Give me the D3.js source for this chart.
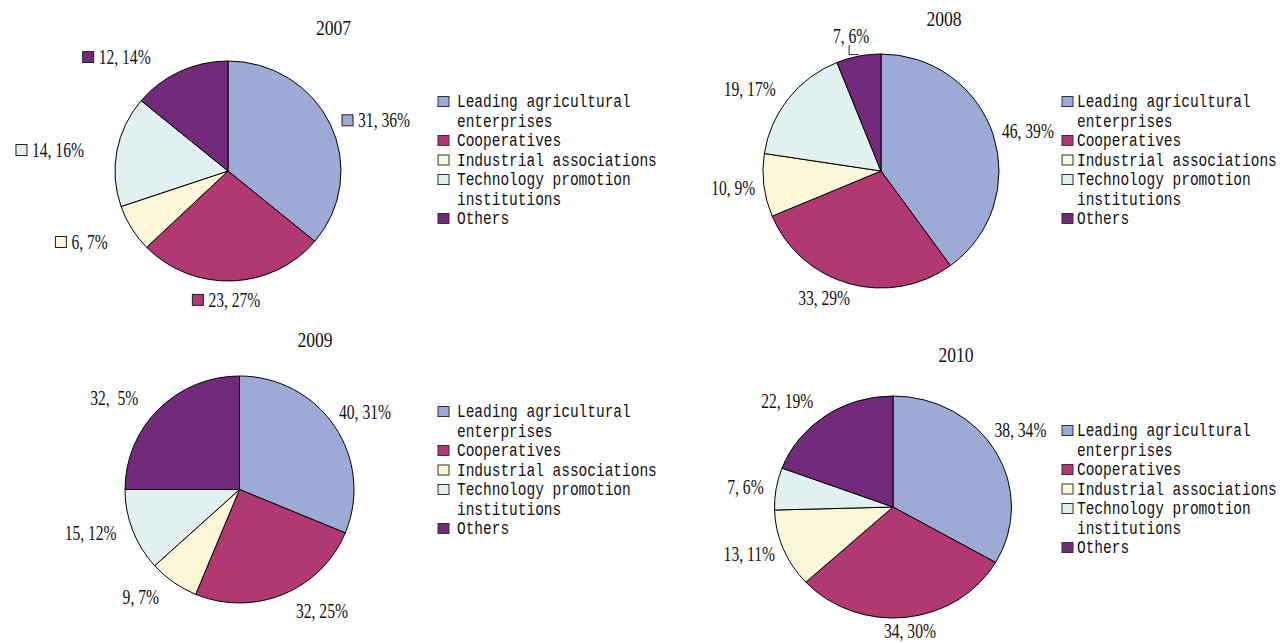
<!DOCTYPE html>
<html><head><meta charset="utf-8">
<script src="https://cdn.jsdelivr.net/npm/d3@7"></script>
<style>body{margin:0;background:#fff}svg{display:block}text{white-space:pre}</style>
</head><body>
<svg id="chart" width="1280" height="643"></svg>
<script>
// ---- data ----
const categories = ["Leading agricultural enterprises", "Cooperatives", "Industrial associations", "Technology promotion institutions", "Others"];
const legendLines = [["Leading agricultural", "enterprises"], ["Cooperatives"], ["Industrial associations"], ["Technology promotion", "institutions"], ["Others"]];
const years = ["2007", "2008", "2009", "2010"];
const values2007 = [31, 23, 6, 14, 12];
const values2008 = [46, 33, 10, 19, 7];
const values2009 = [40, 32, 9, 15, 32];
const values2010 = [38, 34, 13, 7, 22];
const pctLabels2007 = ["36%", "27%", "7%", "16%", "14%"];
const pctLabels2008 = ["39%", "29%", "9%", "17%", "6%"];
const pctLabels2009 = ["31%", "25%", "7%", "12%", " 5%"];
const pctLabels2010 = ["34%", "30%", "11%", "6%", "19%"];
const sliceColors = ["#9DAAD6", "#B13872", "#FBF7D9", "#E2F0F0", "#732A7A"];

// ---- layout ----
const panels = [
  {year: years[0], values: values2007, pcts: pctLabels2007, cx: 228, cy: 171, rx: 113, ry: 110,
   title: [333.5, 27.5], legend: [438, 457, 101], keyed: true,
   nudge: [[15, 10], [-7, -14], [-21, -3.5], [-33.6, 5], [-49, 15.5]], leader: [0,0,0,0,0]},
  {year: years[1], values: values2008, pcts: pctLabels2008, cx: 881, cy: 171, rx: 118, ry: 117,
   title: [944, 18.5], legend: [1062, 1077, 101], keyed: false,
   nudge: [[1, 7], [-15.5, -19], [4.5, -1], [-11, 13], [-0.7, 14.5]], leader: [0,0,0,0,1]},
  {year: years[2], values: values2009, pcts: pctLabels2009, cx: 239.5, cy: 489.5, rx: 114.5, ry: 113.5,
   title: [315, 340], legend: [438, 457, 411], keyed: false,
   nudge: [[1.7, 4.5], [25.5, -14.5], [-13, -13], [-10, -9.5], [-20, 13]], leader: [0,0,0,0,0]},
  {year: years[3], values: values2010, pcts: pctLabels2010, cx: 893, cy: 507, rx: 118.5, ry: 111,
   title: [956, 355], legend: [1062, 1077, 430], keyed: false,
   nudge: [[-6, -5], [0, -19], [-1, -7], [4.4, 3.5], [-18, 13]], leader: [0,0,0,0,0]}
];

const svg = d3.select("#chart");
svg.append("rect").attr("width", 1280).attr("height", 643).attr("fill", "#ffffff");

const color = d3.scaleOrdinal().domain(categories).range(sliceColors);
const pie = d3.pie().sort(null).value(d => d.value);
const arc = d3.arc().innerRadius(0).outerRadius(100);
const labelArc = d3.arc().innerRadius(130).outerRadius(130);
const edgeArc = d3.arc().innerRadius(100).outerRadius(100);

const LBL_SX = 0.78, TITLE_SX = 0.8, LEG_SX = 0.763;
const serif = "'Liberation Serif','Times New Roman',serif";
const mono = "'Liberation Mono','DejaVu Sans Mono',monospace";

panels.forEach(p => {
  const data = p.values.map((v, i) => ({cat: categories[i], value: v, pct: p.pcts[i], i}));
  const arcs = pie(data);
  const g = svg.append("g").attr("transform", `translate(${p.cx},${p.cy})`);
  const pg = g.append("g").attr("transform", `scale(${p.rx / 100},${p.ry / 100})`);
  pg.selectAll("path").data(arcs).join("path")
    .attr("d", arc)
    .attr("fill", d => color(d.data.cat))
    .attr("stroke", "#000").attr("stroke-width", 1)
    .attr("vector-effect", "non-scaling-stroke");

  // data labels
  arcs.forEach((a, i) => {
    const c = labelArc.centroid(a);
    const x = c[0] * p.rx / 100 + p.nudge[i][0];
    const y = c[1] * p.ry / 100 + p.nudge[i][1];
    const lg = g.append("g").attr("transform", `translate(${x},${y})`);
    const sg = lg.append("g").attr("transform", `scale(${LBL_SX},1)`);
    const t = sg.append("text")
      .attr("font-family", serif).attr("font-size", 20).attr("fill", "#111")
      .attr("dy", "0.34em").attr("text-anchor", "start")
      .text(`${a.data.value}, ${a.data.pct}`);
    const w = t.node().getComputedTextLength() * LBL_SX;
    const keyW = p.keyed ? 16 : 0;
    const total = keyW + w;
    t.attr("x", (-total / 2 + keyW) / LBL_SX);
    if (p.keyed) {
      lg.append("rect").attr("x", -total / 2).attr("y", -5.5).attr("width", 11).attr("height", 11)
        .attr("fill", color(a.data.cat)).attr("stroke", "#222").attr("stroke-width", 1);
    }
    if (p.leader[i]) {
      const e = edgeArc.centroid(a);
      const ex = e[0] * p.rx / 100, ey = e[1] * p.ry / 100;
      g.append("path").attr("d", `M${ex},${ey - 1.5}H${x - 2}V${y + 9}`)
        .attr("fill", "none").attr("stroke", "#222").attr("stroke-width", 1);
    }
  });

  // title
  svg.append("g").attr("transform", `translate(${p.title[0]},${p.title[1]}) scale(${TITLE_SX},1)`)
    .append("text").attr("font-family", serif).attr("font-size", 22).attr("fill", "#111")
    .attr("text-anchor", "middle").attr("dy", "0.34em").text(p.year);

  // legend
  let row = 0;
  const lineH = 19.5;
  legendLines.forEach((lines, i) => {
    const yy = p.legend[2] + row * lineH;
    svg.append("rect").attr("x", p.legend[0]).attr("y", yy - 4.5).attr("width", 11).attr("height", 10)
      .attr("fill", sliceColors[i]).attr("stroke", "#333").attr("stroke-width", 1);
    lines.forEach((ln, k) => {
      svg.append("g").attr("transform", `translate(${p.legend[1]},${p.legend[2] + (row + k) * lineH}) scale(${LEG_SX},1)`)
        .append("text").attr("font-family", mono).attr("font-size", 19).attr("fill", "#111")
        .attr("dy", "0.34em").text(ln);
    });
    row += lines.length;
  });
});
</script>
</body></html>
